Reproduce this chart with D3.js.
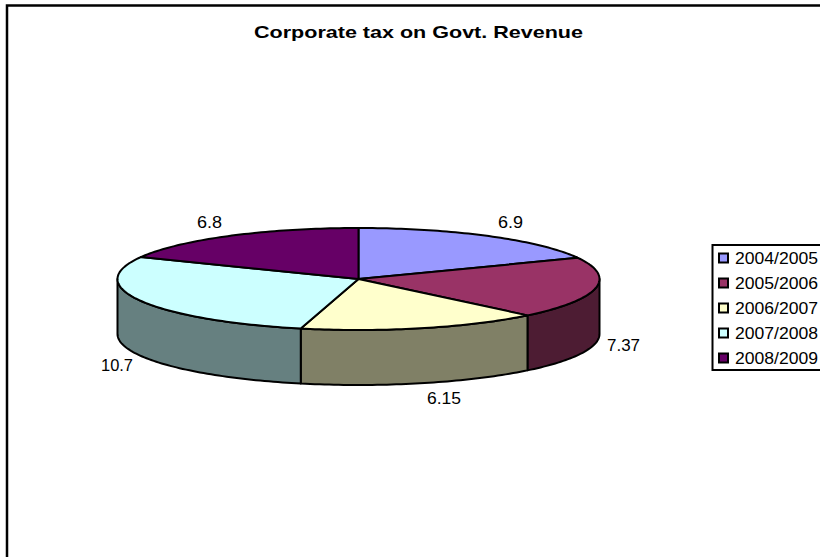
<!DOCTYPE html>
<html>
<head>
<meta charset="utf-8">
<script src="https://cdnjs.cloudflare.com/ajax/libs/d3/7.8.5/d3.min.js"></script>
<style>
  html, body { margin: 0; padding: 0; background: #fff; }
  svg { display: block; }
  text { font-family: "Liberation Sans", Arial, sans-serif; fill: #000; }
</style>
</head>
<body>
<svg id="chart" width="820" height="557"></svg>
<script>
// Corporate tax share of government revenue, by fiscal year
const chartTitle = "Corporate tax on Govt. Revenue";
const years = ["2004/2005", "2005/2006", "2006/2007", "2007/2008", "2008/2009"];
const shares = [6.9, 7.37, 6.15, 10.7, 6.8];
const valueLabels = ["6.9", "7.37", "6.15", "10.7", "6.8"];
const topColors = ["#9999ff", "#993366", "#ffffcc", "#ccffff", "#660066"];
const sideColors = ["#4d4d80", "#4d1c33", "#808066", "#668080", "#330033"];

const svg = d3.select("#chart");

// Outer frame: only left and top edges fall inside the window
svg.append("path")
  .attr("d", "M7,557V5.5H820")
  .attr("fill", "none")
  .attr("stroke", "#000")
  .attr("stroke-width", 2.5);

// Tilted disc geometry
const cx = 358.5, cy = 279, rx = 241, ry = 51, depth = 55;
const px = a => cx + rx * Math.sin(a);
const py = a => cy - ry * Math.cos(a);

const slices = d3.pie().sort(null).value(d => d)(shares);

const sampleAngles = (a0, a1) => {
  const n = Math.max(2, Math.ceil((a1 - a0) / 0.02));
  return d3.range(n + 1).map(i => a0 + (a1 - a0) * i / n);
};
const line = d3.line().x(d => d[0]).y(d => d[1]);

// Front wall: only the part of the rim between 90 and 270 degrees faces the viewer
const wallGroup = svg.append("g");
slices.forEach((s, i) => {
  const a0 = Math.max(s.startAngle, Math.PI / 2);
  const a1 = Math.min(s.endAngle, 3 * Math.PI / 2);
  if (a1 <= a0) return;
  const rim = sampleAngles(a0, a1);
  const upper = rim.map(a => [px(a), py(a)]);
  const lower = rim.slice().reverse().map(a => [px(a), py(a) + depth]);
  wallGroup.append("path")
    .attr("d", line(upper.concat(lower)) + "Z")
    .attr("fill", sideColors[i])
    .attr("stroke", "#000")
    .attr("stroke-width", 2)
    .attr("stroke-linejoin", "round");
});

// Top face wedges
const faceGroup = svg.append("g");
slices.forEach((s, i) => {
  const rim = sampleAngles(s.startAngle, s.endAngle).map(a => [px(a), py(a)]);
  faceGroup.append("path")
    .attr("d", line([[cx, cy]].concat(rim)) + "Z")
    .attr("fill", topColors[i])
    .attr("stroke", "#000")
    .attr("stroke-width", 2)
    .attr("stroke-linejoin", "round");
});

// Title and value labels, set to fixed widths
const stretched = (sel, width) => sel
  .attr("textLength", width)
  .attr("lengthAdjust", "spacingAndGlyphs");

stretched(svg.append("text")
  .attr("x", 254).attr("y", 37.5)
  .attr("font-size", 17)
  .attr("font-weight", "bold")
  .text(chartTitle), 329);

const labelSpots = [[498, 228, 25], [607, 351, 33], [427, 404, 34], [101, 371, 32], [197, 228, 25]];
valueLabels.forEach((t, i) => {
  stretched(svg.append("text")
    .attr("x", labelSpots[i][0]).attr("y", labelSpots[i][1])
    .attr("font-size", 16)
    .text(t), labelSpots[i][2]);
});

// Legend box runs off the right side of the window
svg.append("path")
  .attr("d", "M820,245H712.5V370H820")
  .attr("fill", "#fff")
  .attr("stroke", "#000")
  .attr("stroke-width", 2);

const rowY = d3.scalePoint().domain(years).range([258, 358]);
years.forEach((y, i) => {
  svg.append("rect")
    .attr("x", 719).attr("y", rowY(y) - 4.5)
    .attr("width", 9).attr("height", 9)
    .attr("fill", topColors[i])
    .attr("stroke", "#000")
    .attr("stroke-width", 2);
  stretched(svg.append("text")
    .attr("x", 735).attr("y", rowY(y) + 5.5)
    .attr("font-size", 16)
    .text(y), 83);
});
</script>
</body>
</html>
